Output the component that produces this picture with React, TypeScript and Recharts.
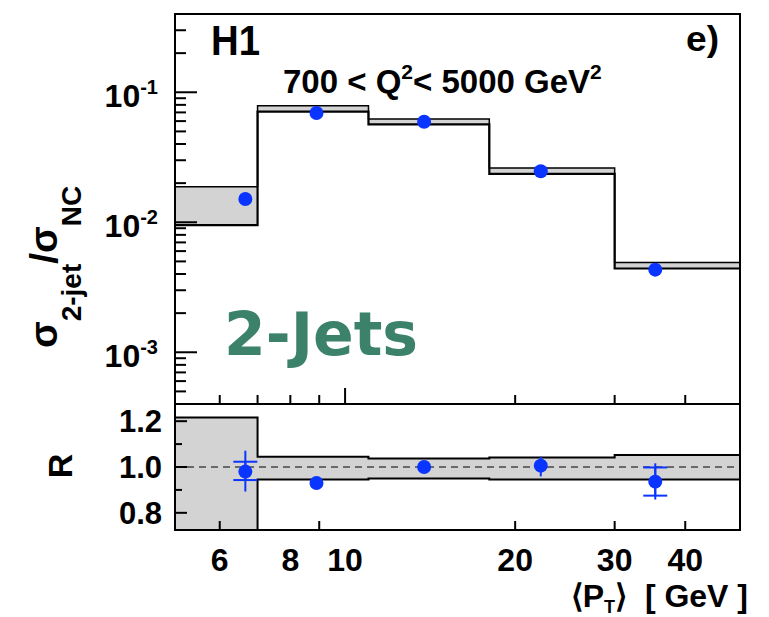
import { ComposedChart, Area, Line, Scatter, XAxis, YAxis, ReferenceLine, ErrorBar } from 'recharts';

// bin edges in <P_T> [GeV]
const ptEdges = [5, 7, 11, 18, 30, 50];
// measured points, x position inside each bin
const pointPt = [6.66, 8.9, 13.8, 22.2, 35.4];

// sigma_2jet / sigma_NC : prediction band and data
const xsecLow = [0.0095, 0.071, 0.0566, 0.0236, 0.00441];
const xsecHigh = [0.0188, 0.0789, 0.0623, 0.0261, 0.0049];
const xsecData = [0.0151, 0.0693, 0.0594, 0.0247, 0.00432];

// ratio R : band and data with errors [down, up]
const ratioLow = [0.7, 0.945, 0.95, 0.945, 0.945];
const ratioHigh = [1.216, 1.045, 1.037, 1.042, 1.052];
const ratioData = [0.98, 0.93, 1.0, 1.006, 0.936];
const ratioStat = [[0.037, 0.043], [0.01, 0.01], [0.01, 0.01], [0.02, 0.02], [0.061, 0.062]];
const ratioTot = [[0.087, 0.091], [0.015, 0.015], [0.015, 0.015], [0.047, 0.039], [0.078, 0.08]];

// ticks
const xsecTicks = [
  0.0004, 0.0005, 0.0006, 0.0007, 0.0008, 0.0009,
  0.001, 0.002, 0.003, 0.004, 0.005, 0.006, 0.007, 0.008, 0.009,
  0.01, 0.02, 0.03, 0.04, 0.05, 0.06, 0.07, 0.08, 0.09,
  0.1, 0.2, 0.3,
];
const xsecMajor = [0.001, 0.01, 0.1];
const xsecMajorExp = ['-3', '-2', '-1'];
const ratioTicks = [0.8, 0.9, 1.0, 1.1, 1.2];
const ratioMajor = [0.8, 1.0, 1.2];
const ptTicks = [6, 7, 8, 9, 10, 20, 30, 40];
const ptLabels = [6, 8, 10, 20, 30, 40];
const ptBottomTicks = [6, 9, 20, 30, 40];

// layout
const W = 769;
const H = 617;
const PL = 175;
const PR = 740;
const TOP_T = 14;
const MID = 404;
const LOW_B = 530;
const FONT = '"Liberation Sans", Arial, Helvetica, sans-serif';
const BLUE = '#0a34ff';
const GREY = '#d3d3d3';
const GREEN = '#3c8169';

function steps(lo: number[], hi: number[]) {
  const rows = lo.map((l, i) => ({ x: ptEdges[i], lo: l, hi: hi[i] }));
  rows.push({ x: ptEdges[ptEdges.length - 1], lo: lo[lo.length - 1], hi: hi[hi.length - 1] });
  return rows;
}

const xsecBand = steps(xsecLow, xsecHigh);
const ratioBand = steps(ratioLow, ratioHigh);
const xsecPts = pointPt.map((x, i) => ({ x, y: xsecData[i] }));
const ratioPts = pointPt.map((x, i) => ({ x, y: ratioData[i], stat: ratioStat[i], tot: ratioTot[i] }));
const ratioCaps = ratioPts.filter((p) => p.stat[1] > 0.03);

const Dot = (p: any) => <circle cx={p.cx} cy={p.cy} r={7} fill={BLUE} />;
const NoDot = () => <g />;

function XsecTick(props: any) {
  const { y, payload } = props;
  const k = xsecMajor.indexOf(payload.value);
  return (
    <g>
      <line x1={PL} x2={PL + (k >= 0 ? 22 : 11)} y1={y} y2={y} stroke="#000" strokeWidth={2} />
      {k >= 0 && (
        <text x={PL - 17} y={y + 15} textAnchor="end" fontFamily={FONT} fontWeight="bold" fontSize={32} fill="#000">
          10<tspan dy={-13} fontSize={20}>{xsecMajorExp[k]}</tspan>
        </text>
      )}
    </g>
  );
}

function RatioTick(props: any) {
  const { y, payload } = props;
  const major = ratioMajor.includes(payload.value);
  return (
    <g>
      <line x1={PL} x2={PL + (major ? 12 : 7)} y1={y} y2={y} stroke="#000" strokeWidth={2} />
      {major && (
        <text x={PL - 13} y={y + 11} textAnchor="end" fontFamily={FONT} fontWeight="bold" fontSize={31} fill="#000">
          {payload.value.toFixed(1)}
        </text>
      )}
    </g>
  );
}

function PtTick(props: any) {
  const { x, payload } = props;
  const v = payload.value;
  return (
    <g>
      <line x1={x} x2={x} y1={MID} y2={MID - (v === 10 ? 16 : 9)} stroke="#000" strokeWidth={2} />
      {ptBottomTicks.includes(v) && <line x1={x} x2={x} y1={LOW_B} y2={LOW_B - 9} stroke="#000" strokeWidth={2} />}
      {ptLabels.includes(v) && (
        <text x={x} y={571} textAnchor="middle" fontFamily={FONT} fontWeight="bold" fontSize={32} fill="#000">
          {v}
        </text>
      )}
    </g>
  );
}

export default function App() {
  return (
    <div style={{ position: 'absolute', left: 0, top: 0, width: W, height: H, background: '#fff' }}>
      {/* ratio panel */}
      <div style={{ position: 'absolute', left: 0, top: 0 }}>
        <ComposedChart width={W} height={H} data={ratioBand} margin={{ top: MID, right: W - PR, bottom: H - LOW_B - 1, left: PL - 1 }}>
          <XAxis
            dataKey="x"
            type="number"
            scale="log"
            domain={[5, 50]}
            allowDataOverflow
            ticks={ptTicks}
            interval={0}
            height={1}
            axisLine={false}
            tickLine={false}
            tick={<PtTick />}
          />
          <YAxis
            type="number"
            domain={[0.725, 1.275]}
            allowDataOverflow
            ticks={ratioTicks}
            interval={0}
            width={1}
            axisLine={false}
            tickLine={false}
            tick={<RatioTick />}
          />
          <Area type="stepAfter" dataKey={(d: any) => [d.lo, d.hi]} fill={GREY} fillOpacity={1} stroke="none" isAnimationActive={false} />
          <Line type="stepAfter" dataKey="hi" stroke="#000" strokeWidth={2} dot={false} activeDot={false} isAnimationActive={false} />
          <Line type="stepAfter" dataKey="lo" stroke="#000" strokeWidth={2} dot={false} activeDot={false} isAnimationActive={false} />
          <ReferenceLine y={1} stroke="#000" strokeWidth={1} strokeDasharray="7 5" />
          <Scatter data={ratioCaps} dataKey="y" shape={NoDot} isAnimationActive={false}>
            <ErrorBar dataKey="stat" direction="y" width={12} stroke={BLUE} strokeWidth={2} />
          </Scatter>
          <Scatter data={ratioPts} dataKey="y" shape={Dot} isAnimationActive={false}>
            <ErrorBar dataKey="tot" direction="y" width={0} stroke={BLUE} strokeWidth={2} />
          </Scatter>
        </ComposedChart>
      </div>

      {/* cross section panel */}
      <div style={{ position: 'absolute', left: 0, top: 0 }}>
        <ComposedChart width={W} height={MID} data={xsecBand} margin={{ top: TOP_T, right: W - PR, bottom: 0, left: PL - 1 }}>
          <XAxis dataKey="x" type="number" scale="log" domain={[5, 50]} allowDataOverflow hide />
          <YAxis
            type="number"
            scale="log"
            domain={[0.0004, 0.4]}
            allowDataOverflow
            ticks={xsecTicks}
            interval={0}
            width={1}
            axisLine={false}
            tickLine={false}
            tick={<XsecTick />}
          />
          <Area type="stepAfter" dataKey={(d: any) => [d.lo, d.hi]} fill={GREY} fillOpacity={1} stroke="none" isAnimationActive={false} />
          <Line type="stepAfter" dataKey="hi" stroke="#000" strokeWidth={1.5} dot={false} activeDot={false} isAnimationActive={false} />
          <Line type="stepAfter" dataKey="lo" stroke="#000" strokeWidth={2.2} dot={false} activeDot={false} isAnimationActive={false} />
          <Scatter data={xsecPts} dataKey="y" shape={Dot} isAnimationActive={false} />
        </ComposedChart>
      </div>

      {/* frames and texts */}
      <svg width={W} height={H} style={{ position: 'absolute', left: 0, top: 0, pointerEvents: 'none' }}>
        <rect x={PL} y={TOP_T} width={PR - PL} height={MID - TOP_T} fill="none" stroke="#000" strokeWidth={2} />
        <rect x={PL} y={MID} width={PR - PL} height={LOW_B - MID} fill="none" stroke="#000" strokeWidth={2} />
        <g fontFamily={FONT} fontWeight="bold" fill="#000">
          <text x={211} y={55} fontSize={43} textLength={49} lengthAdjust="spacingAndGlyphs">H1</text>
          <text x={686} y={51} fontSize={35} textLength={33} lengthAdjust="spacingAndGlyphs">e)</text>
          <text x={283} y={93} fontSize={33}>
            {'700 < Q'}
            <tspan dy={-14} fontSize={21}>2</tspan>
            <tspan dy={14}>{'< 5000 GeV'}</tspan>
            <tspan dy={-14} fontSize={21}>2</tspan>
          </text>
          <text transform="translate(57,348) rotate(-90)" fontSize={39}>
            σ<tspan dy={24} fontSize={28}>2-jet</tspan>
            <tspan dy={-24}>/σ</tspan>
            <tspan dy={24} fontSize={28}>NC</tspan>
          </text>
          <text transform="translate(72,466) rotate(-90)" textAnchor="middle" fontSize={34}>R</text>
          <text x={748} y={607} textAnchor="end" fontSize={32} style={{ whiteSpace: 'pre' }}>
            ⟨P<tspan dy={6} fontSize={18}>T</tspan>
            <tspan dy={-6}>{'⟩  [ GeV ]'}</tspan>
          </text>
        </g>
        <text x={224} y={355} fontFamily='"DejaVu Sans", sans-serif' fontWeight="bold" fontSize={60} fill={GREEN}>
          2-Jets
        </text>
      </svg>
    </div>
  );
}
